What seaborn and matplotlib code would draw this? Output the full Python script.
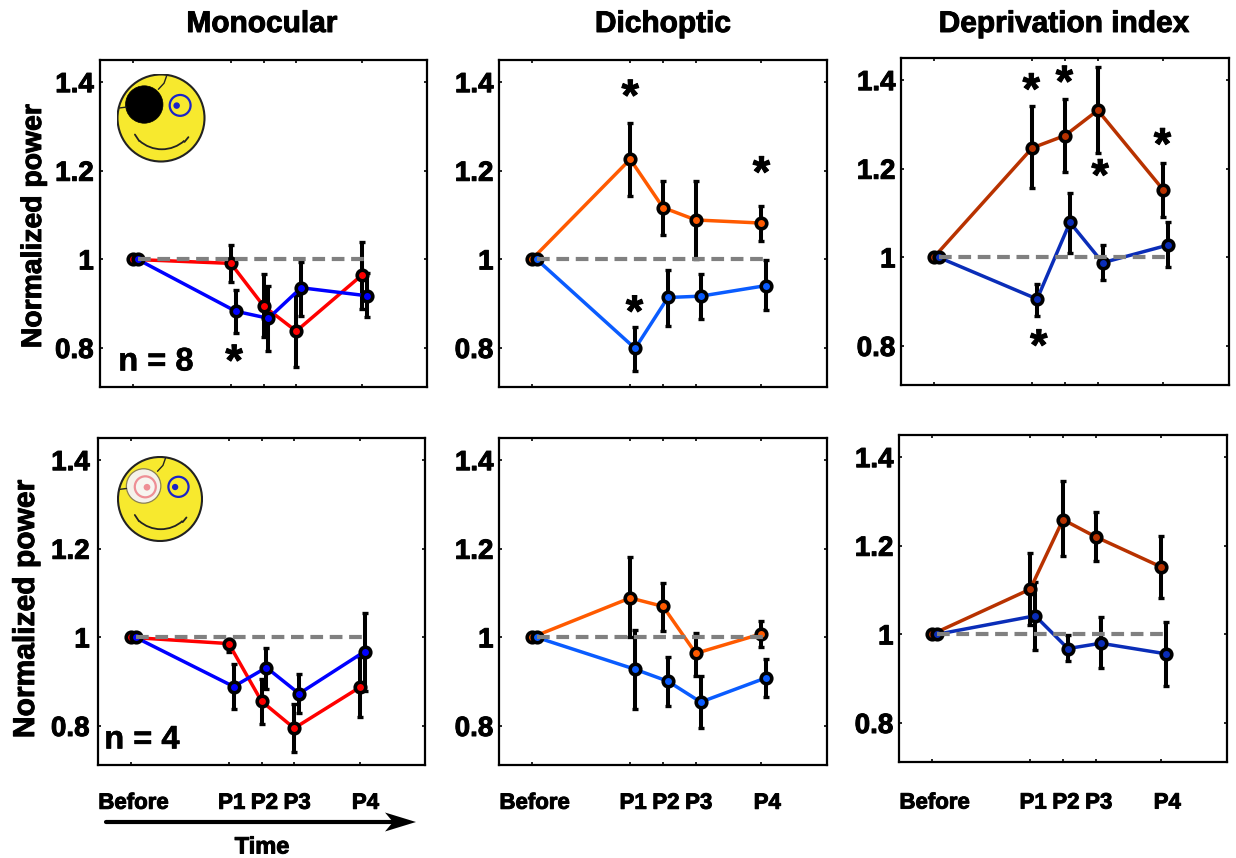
import numpy as np
import pandas as pd
import seaborn as sns
import matplotlib
matplotlib.use('Agg')
import matplotlib.pyplot as plt
import matplotlib.patheffects as pe
from matplotlib.patches import Circle, Arc, Polygon
from matplotlib.lines import Line2D

W, H = 1236, 858

# time axis
time_x = [0, 3, 4, 5, 7]
time_labels = ['Before', 'P1', 'P2', 'P3', 'P4']
y_ticks = [0.8, 1, 1.2, 1.4]
y_tick_labels = ['0.8', '1', '1.2', '1.4']
column_titles = ['Monocular', 'Dichoptic', 'Deprivation index']

# top row : monocular
mono8_patched = [1, 0.991, 0.895, 0.838, 0.964]
mono8_patched_lo = [1, 0.948, 0.824, 0.758, 0.887]
mono8_patched_hi = [1, 1.032, 0.966, 0.920, 1.040]
mono8_open = [1, 0.883, 0.867, 0.936, 0.918]
mono8_open_lo = [1, 0.833, 0.793, 0.872, 0.871]
mono8_open_hi = [1, 0.931, 0.940, 0.995, 0.970]

# top row : dichoptic
dich8_patched = [1, 1.226, 1.117, 1.089, 1.082]
dich8_patched_lo = [1, 1.143, 1.056, 1.000, 1.042]
dich8_patched_hi = [1, 1.308, 1.177, 1.177, 1.121]
dich8_open = [1, 0.799, 0.914, 0.917, 0.941]
dich8_open_lo = [1, 0.749, 0.850, 0.865, 0.886]
dich8_open_hi = [1, 0.848, 0.976, 0.967, 0.998]

# top row : deprivation index
depr8_patched = [1, 1.247, 1.275, 1.332, 1.152]
depr8_patched_lo = [1, 1.157, 1.193, 1.236, 1.092]
depr8_patched_hi = [1, 1.342, 1.357, 1.429, 1.214]
depr8_open = [1, 0.906, 1.079, 0.988, 1.028]
depr8_open_lo = [1, 0.868, 1.011, 0.949, 0.979]
depr8_open_hi = [1, 0.941, 1.146, 1.028, 1.079]

# bottom row : monocular
mono4_patched = [1, 0.986, 0.856, 0.795, 0.887]
mono4_patched_lo = [1, 0.967, 0.804, 0.741, 0.820]
mono4_patched_hi = [1, 0.997, 0.907, 0.850, 0.956]
mono4_open = [1, 0.889, 0.932, 0.873, 0.968]
mono4_open_lo = [1, 0.838, 0.884, 0.829, 0.880]
mono4_open_hi = [1, 0.941, 0.977, 0.918, 1.055]

# bottom row : dichoptic
dich4_patched = [1, 1.089, 1.070, 0.964, 1.008]
dich4_patched_lo = [1, 1.000, 1.014, 0.913, 0.979]
dich4_patched_hi = [1, 1.182, 1.122, 1.011, 1.037]
dich4_open = [1, 0.928, 0.901, 0.854, 0.909]
dich4_open_lo = [1, 0.839, 0.845, 0.796, 0.865]
dich4_open_hi = [1, 1.017, 0.956, 0.913, 0.952]

# bottom row : deprivation index
depr4_patched = [1, 1.102, 1.259, 1.220, 1.152]
depr4_patched_lo = [1, 1.022, 1.177, 1.165, 1.082]
depr4_patched_hi = [1, 1.184, 1.346, 1.276, 1.222]
depr4_open = [1, 1.042, 0.968, 0.980, 0.956]
depr4_open_lo = [1, 0.964, 0.940, 0.924, 0.883]
depr4_open_hi = [1, 1.118, 0.998, 1.039, 1.028]

# significance stars (time, level)
stars_mono8 = [(3.1, 0.784)]
stars_dich8 = [(3.0, 1.382), (3.13, 0.895), (7.0, 1.209)]
stars_depr8 = [(2.97, 1.392), (3.98, 1.409), (5.07, 1.198), (6.97, 1.268), (3.2, 0.814)]

sns.set_theme(style='white')
plt.rcParams['font.family'] = ['Liberation Sans', 'DejaVu Sans']
plt.rcParams['font.weight'] = 'bold'

fig = plt.figure(figsize=(W / 100, H / 100), dpi=100)

# the original text is heavier than Liberation bold
heavy = [pe.withStroke(linewidth=0.7, foreground='black')]
semi_heavy = [pe.withStroke(linewidth=0.4, foreground='black')]


def px_rect(left, right, top, bottom):
    return [left / W, 1 - bottom / H, (right - left) / W, (bottom - top) / H]


def draw_panel(box, series, colors, stars=(), show_x=False, pad_y=4, pad_x=20):
    ax = fig.add_axes(px_rect(*box))
    patched, patched_lo, patched_hi, open_, open_lo, open_hi = series
    x_open = [t + 0.15 for t in time_x]

    # error bars go under the lines and markers
    for xs, m, lo, hi in [(time_x, patched, patched_lo, patched_hi), (x_open, open_, open_lo, open_hi)]:
        m = np.array(m)
        yerr = [m - np.array(lo), np.array(hi) - m]
        ax.errorbar(xs, m, yerr=yerr, fmt='none', ecolor='black', elinewidth=2.9,
                    capsize=2.4, capthick=2.4, zorder=1.5)

    df = pd.DataFrame({'time': list(time_x) + x_open,
                       'power': list(patched) + list(open_),
                       'eye': ['patched'] * 5 + ['open'] * 5})
    sns.lineplot(data=df, x='time', y='power', hue='eye', hue_order=['patched', 'open'],
                 palette={'patched': colors[0], 'open': colors[1]}, linewidth=2.5,
                 marker='o', markersize=7.6, markeredgecolor='black', markeredgewidth=2.6,
                 errorbar=None, legend=False, ax=ax, zorder=2)

    ax.plot([x_open[0], x_open[-1]], [1, 1], color='#808080', lw=3,
            linestyle=(0, (3.05, 1.6)), zorder=3)

    for sx, sy in stars:
        ax.annotate('*', (sx, sy), xytext=(0, -14.5), textcoords='offset points',
                    ha='center', va='baseline', fontsize=32, color='black', path_effects=heavy)

    ax.set_xlim(-1, 9)
    ax.set_ylim(0.712, 1.45)
    ax.set_xticks(time_x)
    ax.set_xticklabels([])
    ax.set_yticks(y_ticks)
    ax.set_yticklabels(y_tick_labels, fontsize=20, fontweight='bold', path_effects=heavy)
    if show_x:
        # labels sit a little right of their ticks in the original, so they go on
        # invisible minor ticks
        label_x = [t + 0.09 for t in time_x[:-1]] + [time_x[-1] + 0.18]
        ax.set_xticks(label_x, labels=time_labels, minor=True, fontsize=16, fontweight='bold',
                      path_effects=heavy)
        ax.tick_params(axis='x', which='minor', length=0, pad=pad_x, labelcolor='black')
    ax.set_xlabel('')
    ax.set_ylabel('')
    ax.tick_params(axis='both', which='major', direction='in', length=2.5, width=1.2,
                   top=True, right=True, bottom=True, left=True, color='black', labelcolor='black')
    ax.tick_params(axis='y', pad=pad_y)
    for s in ax.spines.values():
        s.set_linewidth(1.6)
        s.set_color('black')
    return ax


def draw_face(cx, cy, r, covered):
    # little cartoon face, in its own axes (unit circle)
    ax = fig.add_axes(px_rect(cx - r - 1, cx + r + 1, cy - r - 1, cy + r + 1), zorder=5)
    lim = (r + 1) / r
    ax.set_xlim(-lim, lim)
    ax.set_ylim(-lim, lim)
    ax.axis('off')
    ink = '#222222'
    ax.add_patch(Circle((0, 0), 1, fc='#f7e92e', ec=ink, lw=1.5))
    # strap
    ax.plot([0.13, 0.07, -0.06], [0.97, 0.8, 0.66], color=ink, lw=1)
    ax.plot([-0.96, -0.8], [0.23, 0.25], color=ink, lw=1)
    # mouth
    ax.add_patch(Arc((0.02, 0.056), 1.55, 1.55, theta1=228, theta2=312, color=ink, lw=1.3))
    ax.plot([-0.6, -0.5], [-0.38, -0.53], color=ink, lw=1.3)
    ax.plot([0.63, 0.54], [-0.44, -0.55], color=ink, lw=1.3)
    # right eye
    ax.add_patch(Circle((0.44, 0.29), 0.24, fc='#f7e92e', ec='#1a22c8', lw=1.6))
    ax.add_patch(Circle((0.36, 0.285), 0.075, fc='#1a22c8', ec='none'))
    # left eye
    if covered:
        ax.add_patch(Circle((-0.385, 0.31), 0.43, fc='black', ec='black', lw=0.5))
    else:
        ax.add_patch(Circle((-0.39, 0.31), 0.41, fc='#f5f2ea', ec='#8a8050', lw=0.9))
        ax.add_patch(Circle((-0.35, 0.29), 0.25, fc='#f7f5f0', ec='#ee8f95', lw=1.6))
        ax.add_patch(Circle((-0.31, 0.28), 0.08, fc='#ee8f95', ec='none'))


red_mono, blue_mono = '#ff0000', '#0000ff'
red_dich, blue_dich = '#ff5a00', '#0a5cff'
red_depr, blue_depr = '#b83200', '#0a2db8'

ax_a = draw_panel((100, 427, 60, 387),
                  [mono8_patched, mono8_patched_lo, mono8_patched_hi, mono8_open, mono8_open_lo, mono8_open_hi],
                  (red_mono, blue_mono), stars_mono8, pad_y=4.5)
ax_b = draw_panel((499, 827, 60, 387),
                  [dich8_patched, dich8_patched_lo, dich8_patched_hi, dich8_open, dich8_open_lo, dich8_open_hi],
                  (red_dich, blue_dich), stars_dich8)
ax_c = draw_panel((901, 1229, 58, 385),
                  [depr8_patched, depr8_patched_lo, depr8_patched_hi, depr8_open, depr8_open_lo, depr8_open_hi],
                  (red_depr, blue_depr), stars_depr8)
ax_d = draw_panel((98, 425, 438, 765),
                  [mono4_patched, mono4_patched_lo, mono4_patched_hi, mono4_open, mono4_open_lo, mono4_open_hi],
                  (red_mono, blue_mono), show_x=True, pad_y=6)
ax_e = draw_panel((499, 827, 438, 765),
                  [dich4_patched, dich4_patched_lo, dich4_patched_hi, dich4_open, dich4_open_lo, dich4_open_hi],
                  (red_dich, blue_dich), show_x=True)
ax_f = draw_panel((899, 1227, 435, 762),
                  [depr4_patched, depr4_patched_lo, depr4_patched_hi, depr4_open, depr4_open_lo, depr4_open_hi],
                  (red_depr, blue_depr), show_x=True, pad_x=22)

draw_face(161, 118, 43.5, True)
draw_face(160, 499, 42, False)


def fig_text(x, y, s, effects=heavy, **kw):
    fig.text(x / W, 1 - y / H, s, ha='center', va='center', color='black', fontweight='bold',
             path_effects=effects, **kw)


fig_text(262, 24, column_titles[0], fontsize=21.5)
fig_text(663, 24, column_titles[1], fontsize=21.5)
fig_text(1064, 24, column_titles[2], fontsize=21.5)

fig_text(34, 226, 'Normalized power', fontsize=20.4, rotation=90)
fig_text(26, 609, 'Normalized power', fontsize=21.6, rotation=90)

fig_text(156, 362, 'n = 8', effects=semi_heavy, fontsize=23.5)
fig_text(142, 740, 'n = 4', effects=semi_heavy, fontsize=23.5)

# time arrow under the bottom left panel
fig.add_artist(Line2D([106 / W, 396 / W], [1 - 822 / H, 1 - 822 / H], color='black', lw=3))
arrow_head = np.array([[416, 822], [385, 812.5], [393, 822], [385, 831.5]], dtype=float)
arrow_head[:, 0] /= W
arrow_head[:, 1] = 1 - arrow_head[:, 1] / H
fig.add_artist(Polygon(arrow_head, closed=True, fc='black', ec='none', transform=fig.transFigure))
fig_text(262, 847, 'Time', fontsize=17)

fig.savefig('out.png', dpi=100)
